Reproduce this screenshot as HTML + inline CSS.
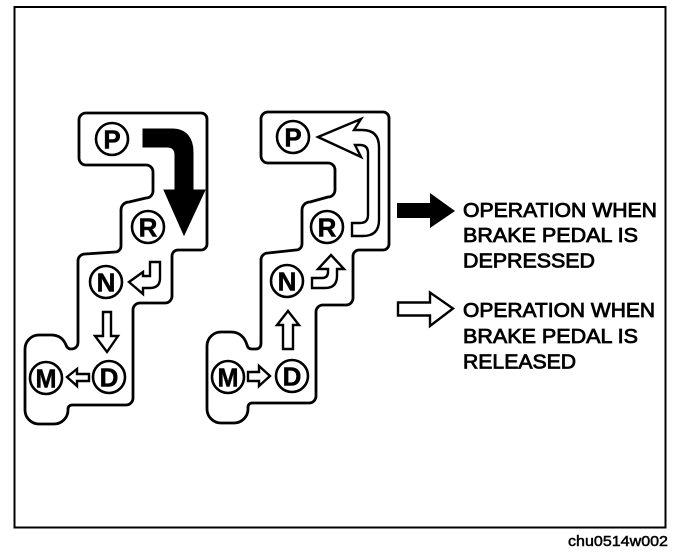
<!DOCTYPE html>
<html><head><meta charset="utf-8"><style>
html,body{margin:0;padding:0;background:#fff;width:688px;height:556px;overflow:hidden}
svg{display:block}
text{font-family:"Liberation Sans",sans-serif;fill:#000}
.t{font-size:20px;stroke:#000;stroke-width:.8px}
.c{font-size:26px;font-weight:bold;text-anchor:middle;stroke:#000;stroke-width:.5px}
circle{fill:#fff;stroke:#000;stroke-width:2.6}
.o{fill:none;stroke:#000;stroke-width:2.8;stroke-linejoin:round}
.a{fill:#fff;stroke:#000;stroke-width:2.4;stroke-linejoin:miter}
</style></head><body>
<svg width="688" height="556" viewBox="0 0 688 556" xmlns="http://www.w3.org/2000/svg">
<rect x="14.500" y="7" width="651" height="520.500" fill="none" stroke="#000" stroke-width="2"/>

<!-- left -->
<path class="o" d="M86 113H201A6 6 0 0 1 207 119V244A6 6 0 0 1 201 250H178A6 6 0 0 0 172 256V296A7 7 0 0 1 165 303H140A7 7 0 0 0 133 310V398A7 7 0 0 1 126 405H72A4 4 0 0 0 68 409V410A14 14 0 0 1 54 424H39A14 14 0 0 1 25 410V349A14 14 0 0 1 39 335H51C60 335 64 340 66 345C67 348 69 349 71 349C75 349 78 347 78 342V261A7 7 0 0 1 85 254L115 252A6 6 0 0 0 121 246V210A8 8 0 0 1 129 202L146 198A7 7 0 0 0 153 191V172A7 7 0 0 0 146 165H86A7 7 0 0 1 79 158V120A7 7 0 0 1 86 113Z"/>
<path d="M143 129H172C186 129 193 138 193 152V190H205L184 235L164 190H175V155Q175 147 167 147H143Z" fill="#000" stroke="#000" stroke-width="1"/>
<path class="a" d="M129 282L143 272V276H150V262H160V278Q160 288 150 288H143V294Z"/>
<path class="a" d="M103 312H111V336H118L107 352L95 336H103Z"/>
<path class="a" d="M67 377L77 369V374H89V381H77V386Z"/>
<g>
<circle cx="112" cy="139" r="16"/><text class="c" x="112" y="148.500">P</text>
<circle cx="148" cy="227" r="16"/><text class="c" x="148" y="236.500">R</text>
<circle cx="106" cy="282" r="16"/><text class="c" x="106" y="291.500">N</text>
<circle cx="109" cy="377" r="16"/><text class="c" x="109" y="386.500">D</text>
<circle cx="46" cy="378" r="16"/><text class="c" x="46" y="387.500" textLength="21" lengthAdjust="spacingAndGlyphs">M</text>
</g>

<!-- right -->
<path class="o" d="M268 112H383A6 6 0 0 1 389 118V244A6 6 0 0 1 383 250H359A6 6 0 0 0 353 256V298A7 7 0 0 1 346 305H323A7 7 0 0 0 316 312V396A7 7 0 0 1 309 403H252A4 4 0 0 0 248 407V409A14 14 0 0 1 234 423H221A14 14 0 0 1 207 409V346A14 14 0 0 1 221 332H231C240 332 245 338 247 345C248 348 249 349 252 349H256C259 349 261 347 261 343V260A7 7 0 0 1 268 253L296 250A6 6 0 0 0 302 244V210A8 8 0 0 1 310 202L328 197A7 7 0 0 0 335 190V170A7 7 0 0 0 328 163H268A7 7 0 0 1 261 156V119A7 7 0 0 1 268 112Z"/>
<path class="a" d="M318 137L361 119L354 130H362Q379 130 379 147V220Q379 236 363 236H352V223H360Q368 223 368 215V153Q368 145 360 145H355L361 157Z"/>
<path class="a" d="M331 255L344 269H337V276Q337 288 325 288H312V278H322Q328 278 328 272V269H318Z"/>
<path class="a" d="M288 311L299 325H293V349H283V325H277Z"/>
<path class="a" d="M270 376L259 366V372H248V381H259V386Z"/>
<g>
<circle cx="293" cy="137" r="16"/><text class="c" x="293" y="146.500">P</text>
<circle cx="327" cy="227" r="16"/><text class="c" x="327" y="236.500">R</text>
<circle cx="287" cy="281" r="16"/><text class="c" x="287" y="290.500">N</text>
<circle cx="292" cy="376" r="16"/><text class="c" x="292" y="385.500">D</text>
<circle cx="228" cy="377" r="16"/><text class="c" x="228" y="386.500" textLength="21" lengthAdjust="spacingAndGlyphs">M</text>
</g>

<!-- legend -->
<path d="M397 203H430V193L455 211L430 228V218H397Z" fill="#000"/>
<path class="a" d="M398 302.500H430V292.500L453 308.500L430 326V315.500H398Z"/>
<text class="t" x="463" y="217" textLength="194" lengthAdjust="spacingAndGlyphs">OPERATION WHEN</text>
<text class="t" x="463" y="242" textLength="175" lengthAdjust="spacingAndGlyphs">BRAKE PEDAL IS</text>
<text class="t" x="463" y="267.500" textLength="132" lengthAdjust="spacingAndGlyphs">DEPRESSED</text>
<text class="t" x="463" y="317" textLength="192" lengthAdjust="spacingAndGlyphs">OPERATION WHEN</text>
<text class="t" x="463" y="343" textLength="175" lengthAdjust="spacingAndGlyphs">BRAKE PEDAL IS</text>
<text class="t" x="463" y="368.500" textLength="113" lengthAdjust="spacingAndGlyphs">RELEASED</text>
<text x="568" y="546" font-size="15" textLength="100" lengthAdjust="spacingAndGlyphs" stroke="#000" stroke-width=".5">chu0514w002</text>
</svg>
</body></html>
